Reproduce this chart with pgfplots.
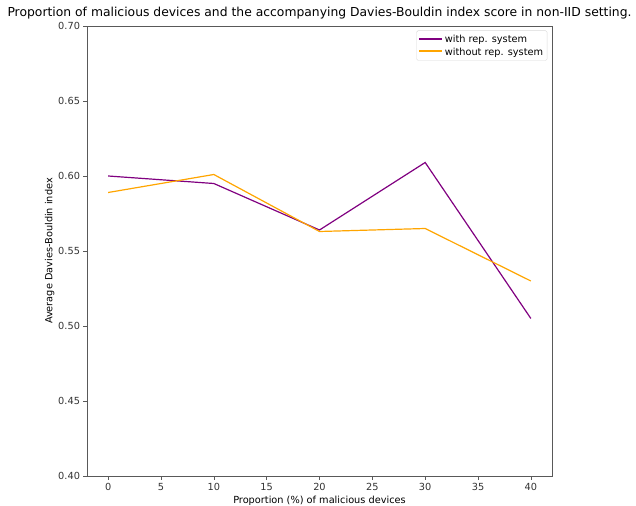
\documentclass[border=0pt]{standalone}
\usepackage{pgfplots}
\pgfplotsset{compat=1.18}
\usepackage{fontspec}
\setmainfont{DejaVu Sans}
\definecolor{mpurple}{HTML}{800080}
\definecolor{morange}{HTML}{FFA500}
\begin{document}
\begin{tikzpicture}
\begin{axis}[
  scale only axis,
  width=465bp, height=450bp,
  xmin=-2, xmax=42, ymin=0.40, ymax=0.70,
  xtick={0,5,...,40},
  ytick={0.40,0.45,0.50,0.55,0.60,0.65,0.70},
  yticklabel style={/pgf/number format/.cd,fixed,fixed zerofill,precision=2},
  /pgf/number format/assume math mode=true,
  tick align=outside, tick pos=left,
  major tick length=3.5bp,
  tick style={gray!70!black, line width=0.6bp},
  axis line style={gray!70!black, line width=0.6bp},
  ticklabel style={font=\fontsize{9.8}{11}\selectfont, text=black!80},
  xlabel={Proportion (\%) of malicious devices},
  ylabel={Average Davies-Bouldin index},
  label style={font=\fontsize{9.8}{11}\selectfont},
  xlabel style={yshift=1bp},
  ylabel style={yshift=-3bp},
  title={Proportion of malicious devices and the accompanying Davies-Bouldin index score in non-IID setting.},
  title style={font=\fontsize{12.4}{14}\selectfont, yshift=-3bp},
  legend style={at={(rel axis cs:0.99,0.99)}, anchor=north east, font=\fontsize{9.8}{11}\selectfont, draw=gray!30, rounded corners=1.5bp, row sep=0bp, inner sep=2bp},
  legend cell align=left,
]
\addlegendimage{draw=mpurple, line width=1.4bp, legend image code/.code={\draw[draw=mpurple, line width=1.6bp] (0cm,0.3bp) -- (0.8cm,0.3bp);}}
\addlegendentry{with rep. system}
\addlegendimage{draw=morange, line width=1.4bp, legend image code/.code={\draw[draw=morange, line width=1.6bp] (0cm,0.8bp) -- (0.8cm,0.8bp);}}
\addlegendentry{without rep. system}
\addplot[mpurple, line width=1.2bp, forget plot] coordinates {(0,0.600) (10,0.595) (20,0.564) (30,0.609) (40,0.505)};
\addplot[morange, line width=1.2bp, forget plot] coordinates {(0,0.589) (10,0.601) (20,0.563) (30,0.565) (40,0.530)};
\coordinate (sw) at (rel axis cs:0,0);
\coordinate (ne) at (rel axis cs:1,1);
\end{axis}
\pgfresetboundingbox
\path ([shift={(-87bp,-30bp)}]sw) rectangle ([shift={(84bp,26bp)}]ne);
\end{tikzpicture}
\end{document}
